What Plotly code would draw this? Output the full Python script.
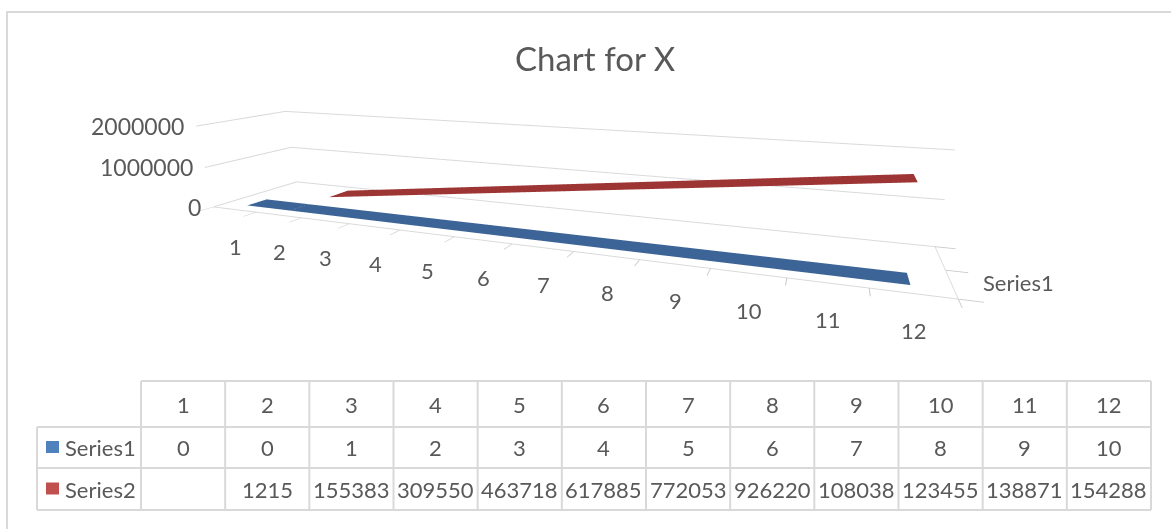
import plotly.graph_objects as go

# ---------------- data ----------------
categories = [1, 2, 3, 4, 5, 6, 7, 8, 9, 10, 11, 12]
series1 = [0, 0, 1, 2, 3, 4, 5, 6, 7, 8, 9, 10]
series2_categories = [2, 3, 4, 5, 6, 7, 8, 9, 10, 11, 12]
series2 = [1215, 155383, 309550, 463718, 617885, 772053, 926220,
           1080388, 1234555, 1388723, 1542890]
# values as printed (truncated) in the data table of the reference
series1_table = ["0", "0", "1", "2", "3", "4", "5", "6", "7", "8", "9", "10"]
series2_table = ["", "1215", "155383", "309550", "463718", "617885", "772053",
                 "926220", "108038", "123455", "138871", "154288"]
series_names = ["Series1", "Series2"]
series_colors = ["#4F81BD", "#C0504D"]
ribbon_colors = ["#3C6496", "#9E3535"]
z_ticks = [0, 1000000, 2000000]
z_ticktext = ["0", "1000000", "2000000"]

W, H = 1171, 529
FONT = "Lato"
TXT = "#595959"
GRID = "#D9D9D9"


def px(x):
    return x / W


def py(y):
    return 1 - y / H


fig = go.Figure()

# ribbons (3D line chart look)
for yc, xs, vals, col, half in [(0, categories, series1, ribbon_colors[0], 0.22),
                                (1, series2_categories, series2, ribbon_colors[1], 0.26)]:
    fig.add_trace(go.Surface(
        x=xs, y=[yc - half, yc + half], z=[vals, vals],
        colorscale=[[0, col], [1, col]], showscale=False,
        lighting=dict(ambient=1, diffuse=0, specular=0, roughness=1, fresnel=0),
        hoverinfo="skip", name=series_names[yc]))

axis_common = dict(showbackground=False, showspikes=False, zeroline=False,
                   showticklabels=False, title=dict(text=""))

# upright tick labels placed in data coordinates of the scene
scene_ann = []
for c in categories:
    scene_ann.append(dict(x=c, y=-0.5, z=0, text=str(c), showarrow=False,
                          xanchor="center", yanchor="middle", xshift=1, yshift=-37,
                          font=dict(family=FONT, size=22, color=TXT)))
for v, t in zip(z_ticks, z_ticktext):
    scene_ann.append(dict(x=0.5, y=-0.5, z=v, text=t, showarrow=False,
                          xanchor="right", yanchor="middle", xshift=-10,
                          font=dict(family=FONT, size=23, color=TXT)))
scene_ann.append(dict(x=12.4, y=0, z=0, text=series_names[0], showarrow=False,
                      xanchor="left", yanchor="middle", xshift=38, yshift=0,
                      font=dict(family=FONT, size=22, color=TXT)))

dx, dz = 0.013, 0.015
scene = dict(
    domain=dict(x=[0, 1], y=[0, 1]),
    aspectmode="manual",
    aspectratio=dict(x=3.81, y=0.65, z=0.46),
    camera=dict(eye=dict(x=1.312 + dx, y=-2.932, z=0.758 + dz),
                center=dict(x=0.269 + dx, y=-0.067, z=-0.407 + dz),
                up=dict(x=0, y=0, z=1),
                projection=dict(type="perspective")),
    xaxis=dict(range=[0.5, 12.5], tickvals=[c - 0.5 for c in categories] + [12.5],
               showgrid=False, showline=True, linecolor=GRID, linewidth=2,
               ticks="outside", tickcolor="#C8C8C8", ticklen=14, tickwidth=2, **axis_common),
    yaxis=dict(range=[-0.5, 1.5], tickvals=[-0.5, 0.5, 1.5],
               showgrid=False, showline=True, linecolor=GRID, linewidth=2,
               ticks="outside", tickcolor="#C8C8C8", ticklen=14, tickwidth=2, **axis_common),
    zaxis=dict(range=[0, 2000000], tickvals=z_ticks,
               showgrid=True, gridcolor=GRID, gridwidth=2, showline=False,
               ticks="", **axis_common),
    annotations=scene_ann,
)

# ---------------- data table (layout shapes + annotations) ----------------
tbl_left, tbl_first, tbl_right = 37, 141, 1151
row_edges = [381, 427, 468, 510]
col_w = (tbl_right - tbl_first) / len(categories)
col_edges = [tbl_first + i * col_w for i in range(len(categories) + 1)]

shapes = []
line = dict(color=GRID, width=2)
# outer chart border (top/left visible)
shapes.append(dict(type="rect", xref="paper", yref="paper",
                   x0=px(7), x1=px(1190), y0=py(12), y1=py(560),
                   line=dict(color=GRID, width=2), layer="below"))
shapes.append(dict(type="line", xref="paper", yref="paper",
                   x0=px(tbl_first), x1=px(tbl_right), y0=py(row_edges[0]), y1=py(row_edges[0]), line=line))
for r in row_edges[1:]:
    shapes.append(dict(type="line", xref="paper", yref="paper",
                       x0=px(tbl_left), x1=px(tbl_right), y0=py(r), y1=py(r), line=line))
shapes.append(dict(type="line", xref="paper", yref="paper",
                   x0=px(tbl_left), x1=px(tbl_left), y0=py(row_edges[1]), y1=py(row_edges[3]), line=line))
for c in col_edges:
    shapes.append(dict(type="line", xref="paper", yref="paper",
                       x0=px(c), x1=px(c), y0=py(row_edges[0]), y1=py(row_edges[3]), line=line))

annotations = []
tfont = dict(family=FONT, size=22, color=TXT)
row_mid = [(row_edges[i] + row_edges[i + 1]) / 2 for i in range(3)]
for i, c in enumerate(categories):
    xc = (col_edges[i] + col_edges[i + 1]) / 2
    for txt, ym in [(str(c), row_mid[0]), (series1_table[i], row_mid[1]), (series2_table[i], row_mid[2])]:
        if txt:
            annotations.append(dict(text=txt, xref="paper", yref="paper", x=px(xc), y=py(ym),
                                    xanchor="center", yanchor="middle", showarrow=False, font=tfont))
for k, name in enumerate(series_names):
    ym = row_mid[k + 1]
    shapes.append(dict(type="rect", xref="paper", yref="paper",
                       x0=px(46), x1=px(59), y0=py(ym - 6.5), y1=py(ym + 5.5),
                       fillcolor=series_colors[k], line=dict(width=0)))
    annotations.append(dict(text=name, xref="paper", yref="paper", x=px(63), y=py(ym),
                            xanchor="left", yanchor="middle", showarrow=False, font=tfont))

# title
annotations.append(dict(text="Chart for X", xref="paper", yref="paper", x=px(595), y=py(58),
                        xanchor="center", yanchor="middle", showarrow=False,
                        font=dict(family=FONT, size=33, color=TXT)))

fig.update_layout(width=W, height=H, margin=dict(l=0, r=0, t=0, b=0),
                  paper_bgcolor="white", plot_bgcolor="white",
                  scene=scene, shapes=shapes, annotations=annotations,
                  showlegend=False, hovermode=False)

fig.write_html("out.html", config={"displayModeBar": False},
               post_script="document.body.style.margin='0px';")
